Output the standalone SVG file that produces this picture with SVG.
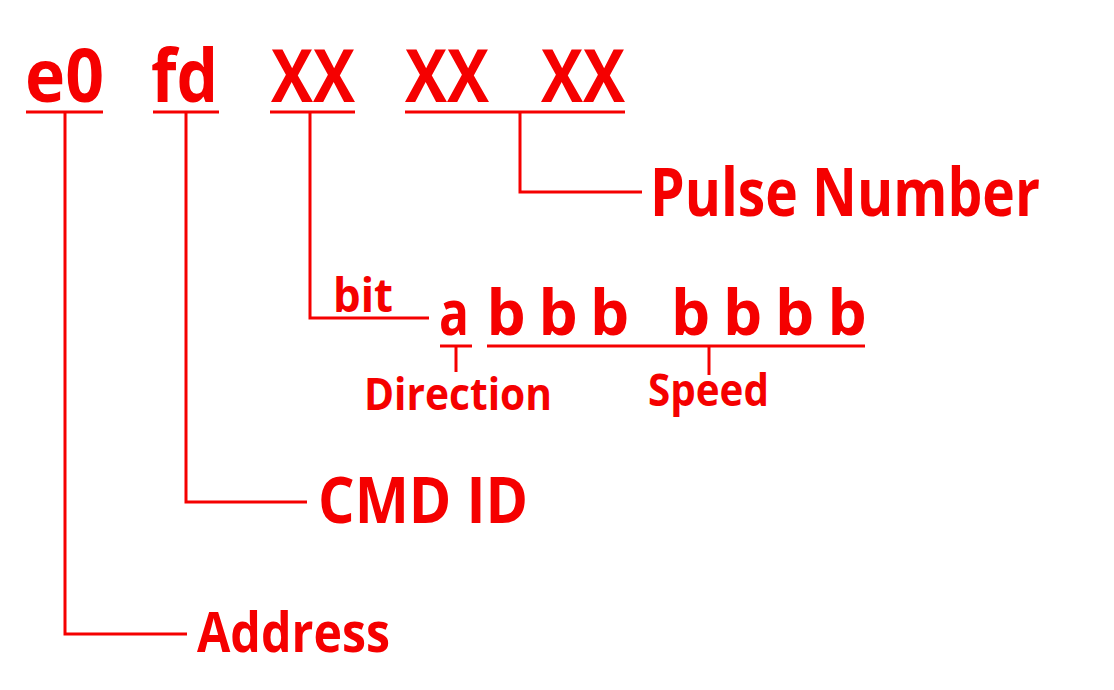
<svg xmlns="http://www.w3.org/2000/svg" width="1114" height="690" viewBox="0 0 1114 690">
<style>
text{font-family:"Open Sans","Liberation Sans",sans-serif;font-weight:bold;fill:#f50000}
.u,.c{stroke:#f50000;stroke-width:3;fill:none}
</style>
<rect width="1114" height="690" fill="#fff"/>
<g id="connectors">
<path class="c" d="M65 112V634H187"/>
<path class="c" d="M186 112V502H307"/>
<path class="c" d="M310 112V318H429"/>
<path class="c" d="M520 112V192H642"/>
<path class="c" d="M456 346V372"/>
<path class="c" d="M709 346V375"/>
</g>
<g id="e0"><text x="25" y="102" font-size="74" textLength="79" lengthAdjust="spacingAndGlyphs">e0</text><path class="u" d="M26 112H103"/></g>
<g id="fd"><text x="151" y="102" font-size="74" textLength="67" lengthAdjust="spacingAndGlyphs">fd</text><path class="u" d="M153 112H219"/></g>
<g id="xx1"><text x="271" y="102" font-size="74" textLength="84" lengthAdjust="spacingAndGlyphs">XX</text><path class="u" d="M270 112H355"/></g>
<g id="xx2"><text y="102" font-size="74"><tspan x="405" textLength="84" lengthAdjust="spacingAndGlyphs">XX</tspan><tspan x="541" textLength="84" lengthAdjust="spacingAndGlyphs">XX</tspan></text><path class="u" d="M405 112H625"/></g>
<g id="pulse"><text x="650" y="216" font-size="66" textLength="390" lengthAdjust="spacingAndGlyphs">Pulse Number</text></g>
<g id="bit"><text x="333" y="311.5" font-size="47" textLength="60" lengthAdjust="spacingAndGlyphs">bit</text></g>
<g id="a"><text x="439" y="335" font-size="62" textLength="30" lengthAdjust="spacingAndGlyphs">a</text><path class="u" d="M440 346H472"/></g>
<g id="b"><text y="335" font-size="62"><tspan x="486.5">b</tspan><tspan x="538.5">b</tspan><tspan x="590">b</tspan><tspan x="671">b</tspan><tspan x="723">b</tspan><tspan x="775">b</tspan><tspan x="827.5">b</tspan></text><path class="u" d="M487 346H865"/></g>
<g id="direction"><text x="364" y="410" font-size="44" textLength="188" lengthAdjust="spacingAndGlyphs">Direction</text></g>
<g id="speed"><text x="648" y="405.5" font-size="44" textLength="121" lengthAdjust="spacingAndGlyphs">Speed</text></g>
<g id="cmd"><text x="318" y="522.5" font-size="64" textLength="210" lengthAdjust="spacingAndGlyphs">CMD ID</text></g>
<g id="address"><text x="197" y="652" font-size="55" textLength="193" lengthAdjust="spacingAndGlyphs">Address</text></g>
</svg>
